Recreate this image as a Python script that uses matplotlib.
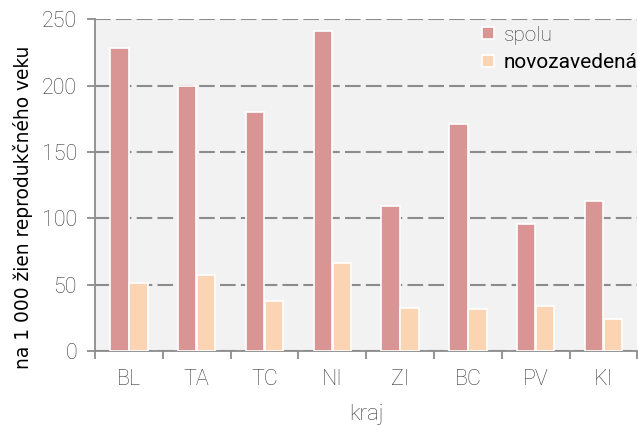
import numpy as np
import matplotlib
matplotlib.use("Agg")
import matplotlib.pyplot as plt

# data
kraje = ['BL', 'TA', 'TC', 'NI', 'ZI', 'BC', 'PV', 'KI']
spolu = [228, 200, 180, 241, 109, 171, 96, 113]
novozavedena = [51, 57, 38, 66.5, 32.5, 31.5, 34, 24.5]

fig = plt.figure(figsize=(6.38, 4.25), dpi=100)
ax = fig.add_axes([0.149, 0.174, 0.85, 0.781])
ax.set_facecolor('#f2f2f2')

x = np.arange(len(kraje))
w = 0.27
ax.bar(x - w / 2 - 0.005, spolu, w, color='#d99594', edgecolor='white', linewidth=1.2,
       label='spolu', zorder=3)
ax.bar(x + w / 2 + 0.005, novozavedena, w, color='#fbd4b4', edgecolor='white', linewidth=1.2,
       label='novozavedená', zorder=3)

ax.set_xlim(-0.5, len(kraje) - 0.5)
ax.set_ylim(0, 250)
ax.set_yticks(range(0, 251, 50))
ax.yaxis.grid(True, color='#8c8c8c', linestyle=(0, (7.5, 2.5)), linewidth=1.5, zorder=1)

# ticks at category boundaries, labels in the middle
ax.set_xticks(np.arange(-0.5, len(kraje), 1))
ax.set_xticklabels([])
ax.set_xticks(x, minor=True)
ax.set_xticklabels(kraje, minor=True)
ax.tick_params(axis='x', which='major', length=6, color='#8c8c8c', width=1.3)
ax.tick_params(axis='x', which='minor', length=0, pad=13)
ax.tick_params(axis='y', length=6, color='#8c8c8c', width=1.3, pad=7)

for lab in ax.get_xticklabels(minor=True) + ax.get_yticklabels():
    lab.set_fontfamily('Roboto')
    lab.set_fontweight('light')
    lab.set_fontsize(15.5)
    lab.set_color('#3a3a3a')

for s in ['top', 'right']:
    ax.spines[s].set_visible(False)
for s in ['left', 'bottom']:
    ax.spines[s].set_color('#8c8c8c')
    ax.spines[s].set_linewidth(1.3)

ax.set_xlabel('kraj', fontfamily='Roboto', fontweight='light', fontsize=16,
              color='#3a3a3a', labelpad=10)
ax.set_ylabel('na 1 000 žien reprodukčného veku', fontsize=13.4, color='black')
ax.yaxis.set_label_coords(-0.114, 0.434)

leg = ax.legend(loc='upper right', bbox_to_anchor=(1.0, 0.98), frameon=False,
                handlelength=0.6, handleheight=0.5, handletextpad=0.45,
                labelspacing=0.4, borderaxespad=0, borderpad=0,
                prop={'family': 'Roboto', 'weight': 'light', 'size': 15})
leg.get_texts()[1].set_fontweight('normal')
leg.get_texts()[1].set_color('black')
leg.get_texts()[0].set_color('#3a3a3a')

plt.savefig('out.png', dpi=100)
